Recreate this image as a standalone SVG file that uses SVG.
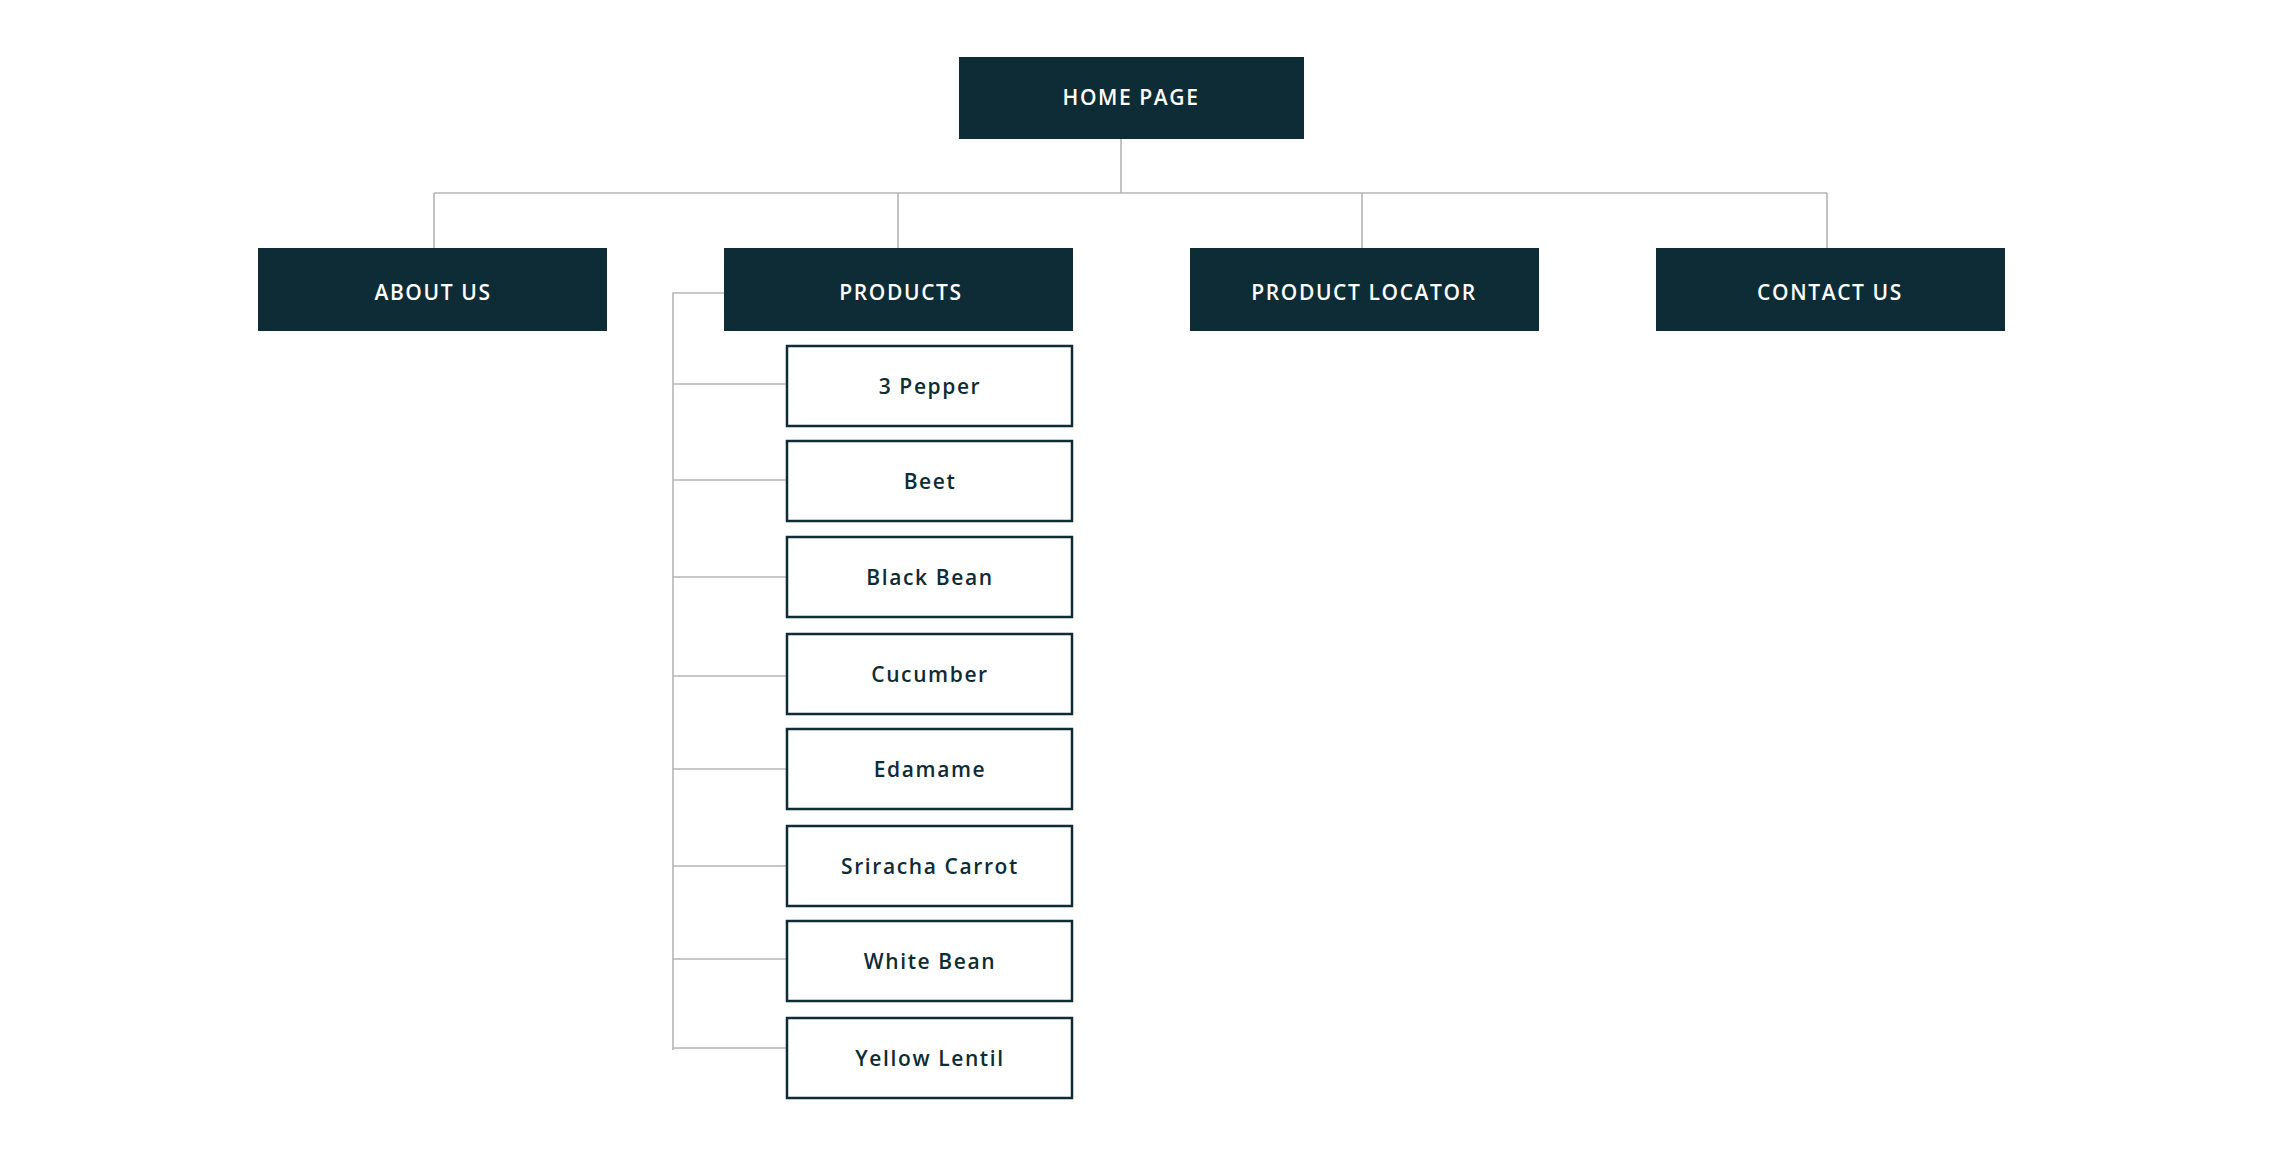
<svg xmlns="http://www.w3.org/2000/svg" width="2278" height="1168" viewBox="0 0 2278 1168">
<style>
.d{fill:#0e2c36}
.c{fill:#fff;stroke:#0e2c36;stroke-width:2.5}
.t{font-family:"Open Sans",sans-serif;font-weight:600;font-size:21px;letter-spacing:1.6px;text-anchor:middle;dominant-baseline:central}
.w{fill:#fff}
.k{fill:#0e2c36}
.l{stroke:#b5b5b5;stroke-width:1.6;fill:none}
</style>
<rect width="2278" height="1168" fill="#fff"/>
<g id="connectors" class="l">
<path d="M1121 139V193M434 193H1827M434 193V248M898 193V248M1362 193V248M1827 193V248"/>
<path d="M724 293H673V1050"/>
<path d="M673 384H787M673 480H787M673 577H787M673 676H787M673 769H787M673 866H787M673 959H787M673 1048H787"/>
</g>
<g id="home"><rect class="d" x="959" y="57" width="345" height="82"/><text class="t w" x="1131" y="97">HOME PAGE</text></g>
<g id="about"><rect class="d" x="258" y="248" width="349" height="83"/><text class="t w" x="433" y="292">ABOUT US</text></g>
<g id="products"><rect class="d" x="724" y="248" width="349" height="83"/><text class="t w" x="901" y="292">PRODUCTS</text></g>
<g id="locator"><rect class="d" x="1190" y="248" width="349" height="83"/><text class="t w" x="1364" y="292">PRODUCT LOCATOR</text></g>
<g id="contact"><rect class="d" x="1656" y="248" width="349" height="83"/><text class="t w" x="1830" y="292">CONTACT US</text></g>
<g id="p1"><rect class="c" x="787" y="346" width="285" height="80"/><text class="t k" x="930" y="386">3 Pepper</text></g>
<g id="p2"><rect class="c" x="787" y="441" width="285" height="80"/><text class="t k" x="930" y="481">Beet</text></g>
<g id="p3"><rect class="c" x="787" y="537" width="285" height="80"/><text class="t k" x="930" y="577">Black Bean</text></g>
<g id="p4"><rect class="c" x="787" y="634" width="285" height="80"/><text class="t k" x="930" y="674">Cucumber</text></g>
<g id="p5"><rect class="c" x="787" y="729" width="285" height="80"/><text class="t k" x="930" y="769">Edamame</text></g>
<g id="p6"><rect class="c" x="787" y="826" width="285" height="80"/><text class="t k" x="930" y="866">Sriracha Carrot</text></g>
<g id="p7"><rect class="c" x="787" y="921" width="285" height="80"/><text class="t k" x="930" y="961">White Bean</text></g>
<g id="p8"><rect class="c" x="787" y="1018" width="285" height="80"/><text class="t k" x="930" y="1058">Yellow Lentil</text></g>
</svg>
